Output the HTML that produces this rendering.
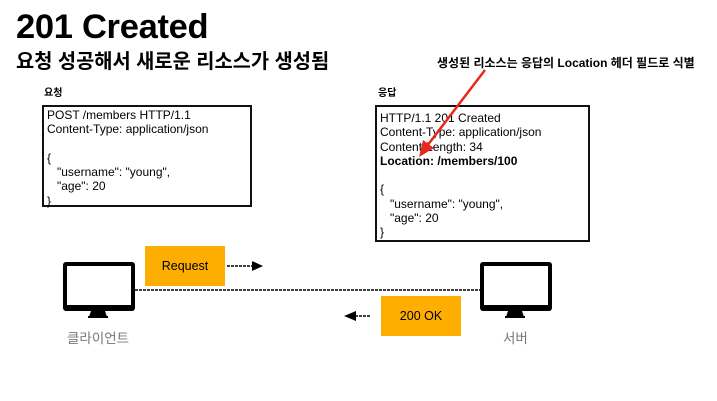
<!DOCTYPE html>
<html><head><meta charset="utf-8"><style>
body{margin:0;width:717px;height:401px;background:#fff;position:relative;overflow:hidden;font-family:"Liberation Sans","Noto Sans CJK KR",sans-serif;color:#000}
.a{position:absolute;white-space:nowrap}
.box{position:absolute;border:2px solid #111;font-size:12px;line-height:14.3px;padding:1px 3px;box-sizing:border-box}
.org{position:absolute;background:#fdae00;font-size:12.5px;display:flex;align-items:center;justify-content:center}
</style></head><body>
<div class="a" style="left:16px;top:8px;font-size:34.5px;font-weight:bold;letter-spacing:-0.3px">201 Created</div>
<div class="a" style="left:16px;top:45px;font-size:19.8px;font-weight:bold">요청 성공해서 새로운 리소스가 생성됨</div>
<div class="a" style="left:44px;top:84px;font-size:10px;font-weight:bold">요청</div>
<div class="box" style="left:42px;top:105px;width:210px;height:102px">POST /members HTTP/1.1<br>Content-Type: application/json<br><br>{<br>&nbsp;&nbsp;&nbsp;"username": "young",<br>&nbsp;&nbsp;&nbsp;"age": 20<br>}</div>
<div class="a" style="left:437px;top:54px;font-size:12px;font-weight:bold">생성된 리소스는 응답의 Location 헤더 필드로 식별</div>
<div class="a" style="left:378px;top:84px;font-size:10px;font-weight:bold">응답</div>
<div class="box" style="left:375px;top:105px;width:215px;height:137px;padding-top:4px">HTTP/1.1 201 Created<br>Content-Type: application/json<br>Content-Length: 34<br><b>Location: /members/100</b><br><br>{<br>&nbsp;&nbsp;&nbsp;"username": "young",<br>&nbsp;&nbsp;&nbsp;"age": 20<br>}</div>
<svg class="a" style="left:0;top:0" width="717" height="401">
<line x1="485" y1="70" x2="427" y2="146" stroke="#e8281c" stroke-width="2.5"/>
<polygon points="419,157 423,140 434,148" fill="#e8281c"/>
<line x1="135" y1="290" x2="480" y2="290" stroke="#000" stroke-width="1.5" stroke-dasharray="3,1"/>
<line x1="227" y1="266" x2="253" y2="266" stroke="#000" stroke-width="1.5" stroke-dasharray="3,1"/>
<polygon points="263,266 252,261 252,271" fill="#000"/>
<line x1="355" y1="316" x2="370" y2="316" stroke="#000" stroke-width="1.5" stroke-dasharray="3,1"/>
<polygon points="344,316 356,311 356,321" fill="#000"/>
<g fill="#000">
<rect x="63" y="262" width="72" height="49" rx="3"/><rect x="67" y="266" width="64" height="39" fill="#fff"/>
<polygon points="91,311 105,311 107,317 89,317"/><rect x="88" y="316" width="20" height="2"/>
<rect x="480" y="262" width="72" height="49" rx="3"/><rect x="484" y="266" width="64" height="39" fill="#fff"/>
<polygon points="508,311 522,311 524,317 506,317"/><rect x="505" y="316" width="20" height="2"/>
</g>
</svg>
<div class="org" style="left:145px;top:246px;width:80px;height:40px">Request</div>
<div class="org" style="left:381px;top:296px;width:80px;height:40px">200 OK</div>
<div class="a" style="left:67px;top:327px;font-size:13.5px;color:#777">클라이언트</div>
<div class="a" style="left:503px;top:327px;font-size:13.5px;color:#777">서버</div>
</body></html>
